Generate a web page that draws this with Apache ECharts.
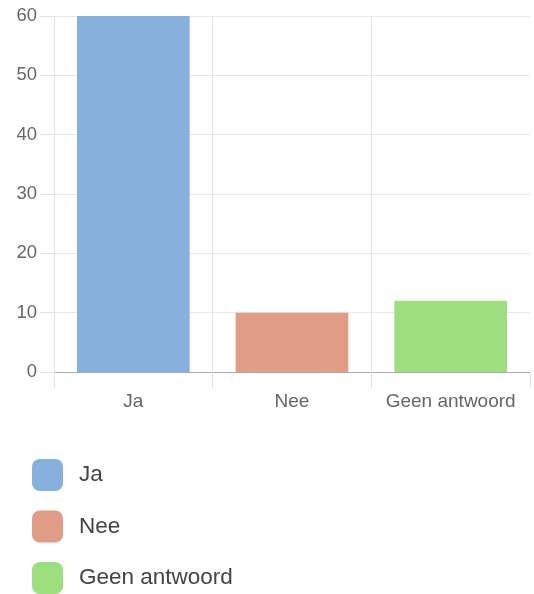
<!DOCTYPE html>
<html>
<head>
<meta charset="utf-8">
<script src="https://cdn.jsdelivr.net/npm/echarts@6/dist/echarts.min.js"></script>
<style>html,body{margin:0;padding:0;background:#fff}#c{width:534px;height:594px}</style>
</head>
<body>
<div id="c"></div>
<script>
const categories = ['Ja', 'Nee', 'Geen antwoord'];
const values = [60, 10, 12];
const colors = ['#86b1dc', '#df9c86', '#9ddf7f'];
const yTicks = [0, 10, 20, 30, 40, 50, 60];

const chart = echarts.init(document.getElementById('c'));
const series = categories.map((name, i) => ({
  name: name,
  type: 'bar',
  stack: 'all',
  barCategoryGap: '29%',
  itemStyle: { color: colors[i] },
  data: categories.map((_, j) => (j === i ? values[i] : '-'))
}));

chart.setOption({
  animation: false,
  textStyle: { fontFamily: 'Liberation Sans, Arial, sans-serif' },
  grid: { left: 54, right: 4, top: 16, bottom: 222 },
  xAxis: {
    type: 'category',
    data: categories,
    axisLine: { show: true, lineStyle: { color: '#aaaaaa', width: 1 } },
    axisTick: { show: true, interval: 0, length: 16, lineStyle: { color: '#e3e3e3' } },
    splitLine: { show: true, interval: 0, showMaxLine: false, lineStyle: { color: '#e3e3e3' } },
    axisLabel: { color: '#666', fontSize: 19, margin: 20, interval: 0, hideOverlap: false }
  },
  yAxis: {
    type: 'value',
    min: yTicks[0],
    max: yTicks[yTicks.length - 1],
    interval: 10,
    axisLine: { show: false },
    axisTick: { show: true, length: 14, lineStyle: { color: '#e3e3e3' } },
    splitLine: { show: true, lineStyle: { color: '#e8e8e8' } },
    axisLabel: { color: '#666', fontSize: 18.5, margin: 17 }
  },
  legend: {
    orient: 'vertical',
    left: 32,
    top: 459,
    padding: 0,
    icon: 'roundRect',
    itemWidth: 31,
    itemHeight: 32,
    itemGap: 19.5,
    textStyle: { fontSize: 22.5, color: '#444', padding: [0, 0, 0, 11] },
    data: categories
  },
  series: series
});
</script>
</body>
</html>
